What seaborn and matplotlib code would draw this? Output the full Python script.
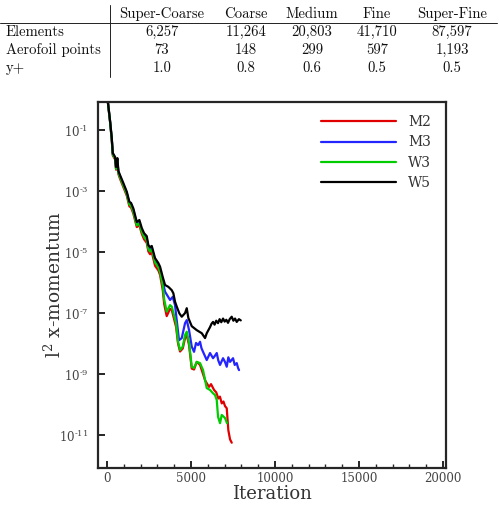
import matplotlib
matplotlib.use('Agg')
import matplotlib.pyplot as plt
from matplotlib.lines import Line2D
from matplotlib.ticker import MultipleLocator, NullLocator
import numpy as np
import pandas as pd
import seaborn as sns

# mesh table
mesh_names = ['Super-Coarse', 'Coarse', 'Medium', 'Fine', 'Super-Fine']
row_names = ['Elements', 'Aerofoil points', 'y+']
elements = ['6,257', '11,264', '20,803', '41,710', '87,597']
aerofoil_points = ['73', '148', '299', '597', '1,193']
y_plus = ['1.0', '0.8', '0.6', '0.5', '0.5']

# residual histories (iteration, log10 of l2 x-momentum residual)
m2_iter = [0, 179, 280, 339, 476, 536, 613, 673, 774, 970, 1173, 1327, 1428, 1565, 1768,
           1923, 2065, 2202, 2363, 2458, 2559, 2660, 2857, 3053, 3155, 3315, 3400, 3550,
           3750, 3851, 4107, 4226, 4345, 4506, 4643, 4744, 4881, 5041, 5178, 5339, 5535,
           5833, 5934, 6071, 6190, 6369, 6500, 6625, 6720, 6827, 6930, 7023, 7125, 7220,
           7321, 7422]
m2_log = [0.15, -0.74, -1.33, -1.83, -1.96, -2.30, -2.01, -2.44, -2.60, -2.87, -3.15, -3.50,
          -3.54, -3.74, -4.18, -4.12, -4.40, -4.58, -4.70, -4.98, -5.07, -5.00, -5.45, -5.60,
          -5.75, -6.25, -6.70, -7.10, -6.86, -6.90, -7.45, -8.00, -8.26, -8.16, -7.82, -7.72,
          -8.05, -8.82, -8.85, -8.60, -8.70, -9.20, -9.30, -9.42, -9.33, -9.52, -9.60, -9.80,
          -9.74, -9.96, -9.90, -10.05, -10.12, -10.84, -11.14, -11.25]

m3_iter = [0, 179, 280, 339, 476, 536, 613, 673, 774, 970, 1173, 1327, 1428, 1565, 1768,
           1923, 2065, 2202, 2363, 2458, 2559, 2660, 2857, 3053, 3155, 3315, 3452, 3750,
           3909, 4047, 4166, 4285, 4446, 4643, 4744, 4881, 5041, 5178, 5297, 5420, 5535,
           5620, 5714, 5820, 5934, 6130, 6309, 6420, 6530, 6620, 6726, 6904, 7020, 7125,
           7220, 7321, 7500, 7600, 7720, 7800, 7857]
m3_log = [0.15, -0.72, -1.29, -1.78, -1.92, -2.25, -1.96, -2.38, -2.52, -2.79, -3.07, -3.40,
          -3.44, -3.63, -4.07, -4.02, -4.28, -4.45, -4.58, -4.85, -4.92, -4.85, -5.30, -5.46,
          -5.60, -5.97, -6.30, -6.57, -6.47, -6.74, -7.33, -7.89, -7.82, -7.33, -7.23, -7.56,
          -8.10, -8.27, -7.98, -8.05, -7.94, -8.15, -8.27, -8.40, -8.54, -8.31, -8.48, -8.40,
          -8.31, -8.55, -8.70, -8.48, -8.60, -8.76, -8.45, -8.60, -8.48, -8.70, -8.64, -8.80,
          -8.87]

w3_iter = [0, 179, 280, 339, 476, 536, 613, 673, 774, 970, 1173, 1327, 1428, 1565, 1768,
           1923, 2065, 2202, 2363, 2458, 2559, 2660, 2857, 3053, 3155, 3315, 3400, 3550,
           3750, 3851, 4107, 4226, 4345, 4506, 4643, 4744, 4881, 5041, 5178, 5339, 5535,
           5714, 5934, 6130, 6291, 6428, 6530, 6607, 6726, 6827, 7023, 7142]
w3_log = [0.15, -0.73, -1.31, -1.80, -1.93, -2.27, -1.98, -2.40, -2.55, -2.82, -3.10, -3.44,
          -3.48, -3.68, -4.12, -4.06, -4.33, -4.50, -4.62, -4.90, -4.98, -4.90, -5.34, -5.50,
          -5.66, -6.10, -6.55, -6.95, -6.74, -6.79, -7.33, -7.94, -8.21, -8.10, -7.72, -7.61,
          -7.98, -8.76, -8.80, -8.60, -8.64, -8.87, -9.46, -9.52, -9.62, -9.69, -9.85, -10.40,
          -10.61, -10.34, -10.44, -10.61]

w5_iter = [0, 179, 280, 339, 476, 536, 613, 673, 774, 970, 1173, 1327, 1428, 1565, 1768,
           1923, 2065, 2202, 2363, 2458, 2559, 2660, 2857, 3053, 3155, 3315, 3452, 3649,
           3851, 3946, 4047, 4149, 4303, 4446, 4643, 4744, 4839, 5041, 5339, 5637, 5833,
           5934, 6130, 6220, 6310, 6400, 6500, 6605, 6700, 6800, 6905, 7000, 7100, 7200,
           7300, 7420, 7520, 7620, 7720, 7850, 7960]
w5_log = [0.15, -0.70, -1.26, -1.75, -1.88, -2.21, -1.92, -2.34, -2.48, -2.74, -3.02, -3.35,
          -3.39, -3.57, -4.01, -3.95, -4.21, -4.38, -4.48, -4.77, -4.84, -4.80, -5.20, -5.36,
          -5.48, -5.82, -6.08, -6.14, -6.25, -6.35, -6.63, -6.79, -7.01, -7.12, -7.00, -6.84,
          -7.16, -7.43, -7.56, -7.66, -7.82, -7.66, -7.46, -7.35, -7.29, -7.38, -7.25, -7.33,
          -7.20, -7.30, -7.18, -7.28, -7.22, -7.32, -7.20, -7.12, -7.25, -7.18, -7.29, -7.20,
          -7.24]

cases = ['M2', 'M3', 'W3', 'W5']
colors = {'M2': '#e00000', 'M3': '#2424ff', 'W3': '#00cc00', 'W5': 'black'}

frames = []
for name, it, lg in [('M2', m2_iter, m2_log), ('M3', m3_iter, m3_log),
                     ('W3', w3_iter, w3_log), ('W5', w5_iter, w5_log)]:
    frames.append(pd.DataFrame({'Iteration': it, 'residual': 10.0 ** np.array(lg), 'case': name}))
df = pd.concat(frames, ignore_index=True)

sns.set_style('ticks')
plt.rcParams['font.family'] = ['DejaVu Serif']
plt.rcParams['mathtext.fontset'] = 'dejavuserif'

fig = plt.figure(figsize=(4.99, 5.08), dpi=100)
ax = fig.add_axes([0.1964, 0.0787, 0.6974, 0.7205])

sns.lineplot(data=df, x='Iteration', y='residual', hue='case', hue_order=cases,
             palette=colors, estimator=None, sort=False, linewidth=1.6, ax=ax)

ax.set_yscale('log')
ax.set_xlim(-540, 20180)
ax.set_ylim(10 ** -12.08, 10 ** -0.08)

ax.xaxis.set_major_locator(MultipleLocator(5000))
ax.xaxis.set_minor_locator(MultipleLocator(1000))
ytick_exp = [-1, -3, -5, -7, -9, -11]
ax.set_yticks([10.0 ** e for e in ytick_exp])
ax.set_yticklabels([r'10$^{\text{-}%d}$' % -e for e in ytick_exp])
ax.yaxis.set_minor_locator(NullLocator())

ax.tick_params(which='major', direction='in', length=5, width=1.2, colors='black',
               labelcolor='#444444', labelsize=8.5, pad=3)
ax.tick_params(which='minor', direction='in', length=3, width=1.0)
ax.tick_params(axis='y', pad=7)
for s in ax.spines.values():
    s.set_linewidth(1.6)
    s.set_visible(True)

ax.set_xlabel('Iteration', fontsize=13, color='#333333', labelpad=0)
ax.set_ylabel(r'l$^2$ x-momentum', fontsize=13.5, color='#333333', labelpad=-4)

ax.legend(loc='upper right', bbox_to_anchor=(0.994, 0.998), frameon=False,
          handlelength=5.4, fontsize=10, labelspacing=0.45, handletextpad=0.9,
          labelcolor='#333333')

# table above the plot
tfont = dict(family='cmr10', fontsize=10.6, color='#111111')
col_x = [0.3246, 0.493, 0.6253, 0.7555, 0.9058]
row_y = [0.937, 0.9016, 0.8661]
for cx, name in zip(col_x, mesh_names):
    fig.text(cx, 0.9724, name, ha='center', va='center', **tfont)
for ry, label, vals in zip(row_y, row_names, [elements, aerofoil_points, y_plus]):
    fig.text(0.012, ry, label, ha='left', va='center', **tfont)
    for cx, v in zip(col_x, vals):
        fig.text(cx, ry, v, ha='center', va='center', **tfont)
fig.add_artist(Line2D([0.0, 0.996], [0.955, 0.955], color='#222222', lw=0.7,
                      transform=fig.transFigure))
fig.add_artist(Line2D([0.2204, 0.2204], [0.848, 0.99], color='#222222', lw=0.7,
                      transform=fig.transFigure))

fig.savefig('out.png', dpi=100)
